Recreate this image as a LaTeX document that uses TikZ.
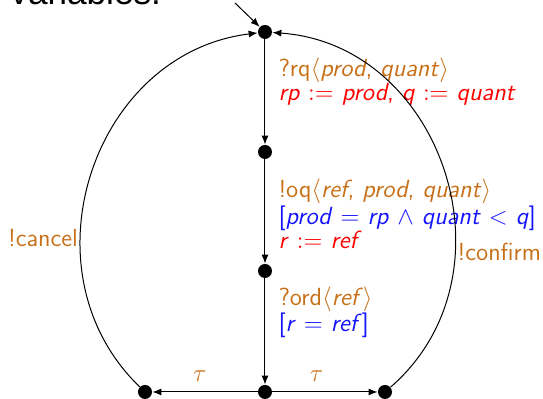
\documentclass[tikz,border=0pt]{standalone}
\usepackage{fix-cm}
\usepackage{fontspec}
\newfontfamily\headfont{Liberation Sans}
\usetikzlibrary{arrows.meta}
\definecolor{actcol}{RGB}{200,112,24}
\definecolor{asgcol}{RGB}{255,0,0}
\definecolor{grdcol}{RGB}{20,20,255}
\tikzset{
  loc/.style={
    circle, fill=black,
    minimum size=7pt, inner sep=0pt
  },
  arr/.style = {-{Latex[length=4.5pt,width=3.5pt]}, line width=0.5pt},
  lbl/.style = {font=\sffamily\fontsize{12.4}{12}\selectfont, align=left, inner sep=1pt},
}
\newcommand{\vn}[1]{\textit{#1}}

\begin{document}
\begin{tikzpicture}[x=0.5pt, y=0.5pt]
\useasboundingbox (0,0) rectangle (543,399);

%% ── Cut-off caption text at the top ─────────────────────────────────────────
\node[font=\headfont\fontsize{17.6}{19}\selectfont, anchor=base west, inner sep=0pt] (cap) at (10,394) {variables.};

%% ── Locations ───────────────────────────────────────────────────────────────
\node[loc] (s0) at (265, 367) {};
\node[loc] (s1) at (265, 247) {};
\node[loc] (s2) at (265, 128) {};
\node[loc] (s3) at (265,   7) {};
\node[loc] (sl) at (145,   7) {};
\node[loc] (sr) at (385,   7) {};

%% ── Entry arrow ─────────────────────────────────────────────────────────────
\coordinate (init) at (235, 396);
\draw[arr] (init) -- (s0);

%% ── Spine (top to bottom) ───────────────────────────────────────────────────
\draw[arr] (s0) -- node[lbl, right=5.5pt, pos=0.4]{%
  \color{actcol}?rq$\langle$\vn{prod}, \vn{quant}$\rangle$\\
  \color{asgcol}\vn{rp} $:=$ \vn{prod}, \vn{q} $:=$ \vn{quant}} (s1);
\draw[arr] (s1) -- node[lbl, right=5.5pt, pos=0.52]{%
  \color{actcol}!oq$\langle$\vn{ref}, \vn{prod}, \vn{quant}$\rangle$\\
  \color{grdcol}[\vn{prod} $=$ \vn{rp} $\wedge$ \vn{quant} $<$ \vn{q}]\\
  \color{asgcol}\vn{r} $:=$ \vn{ref}} (s2);
\draw[arr] (s2) -- node[lbl, right=5.5pt, pos=0.32]{%
  \color{actcol}?ord$\langle$\vn{ref}$\rangle$\\
  \color{grdcol}[\vn{r} $=$ \vn{ref}]} (s3);

%% ── tau steps ───────────────────────────────────────────────────────────────
\draw[arr] (s3) -- node[lbl, above=4pt, pos=0.55, text=actcol]{$\tau$} (sl);
\draw[arr] (s3) -- node[lbl, above=4pt, pos=0.42, text=actcol]{$\tau$} (sr);

%% ── Return arcs ─────────────────────────────────────────────────────────────
\draw[arr] (sl) to[out=136, in=187, looseness=1.14]
  node[lbl, left, pos=0.355, text=actcol]{!cancel} (s0);
\draw[arr] (sr) to[out=41, in=-4, looseness=1.17]
  node[lbl, right, pos=0.325, text=actcol]{!confirm} (s0);

\end{tikzpicture}
\end{document}
